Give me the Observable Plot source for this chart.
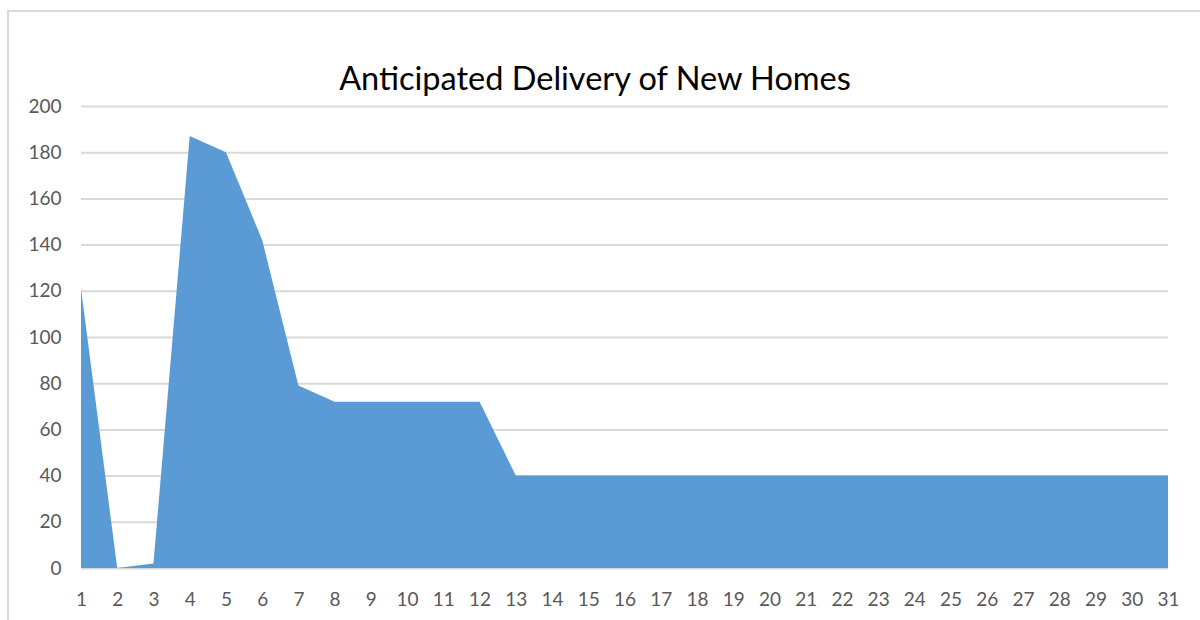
<!DOCTYPE html>
<html>
<head>
<meta charset="utf-8">
<script src="https://cdn.jsdelivr.net/npm/d3@7"></script>
<script src="https://cdn.jsdelivr.net/npm/@observablehq/plot@0.6"></script>
<style>
  html, body { margin: 0; padding: 0; background: #fff; overflow: hidden; }
  #wrap { position: relative; width: 1200px; height: 620px; }
  #frame { position: absolute; left: 7px; top: 10px; width: 1300px; height: 800px; border: 2px solid #d9d9d9; box-sizing: border-box; }
  #title { position: absolute; top: 59px; left: 0; width: 1190px; text-align: center; font-family: Lato, "Open Sans", sans-serif; font-size: 32.5px; line-height: 38px; color: #000; }
  #chart { position: absolute; left: 0; top: 0; }
</style>
</head>
<body>
<div id="wrap">
  <div id="frame"></div>
  <div id="chart"></div>
  <div id="title">Anticipated Delivery of New Homes</div>
</div>
<script>
const periods = d3.range(1, 32);
const homes = [121, 0, 2, 187, 180, 142, 79, 72, 72, 72, 72, 72,
  40, 40, 40, 40, 40, 40, 40, 40, 40, 40, 40, 40, 40, 40, 40, 40, 40, 40, 40];
const yTicks = [0, 20, 40, 60, 80, 100, 120, 140, 160, 180, 200];

const data = periods.map((p, i) => ({period: p, value: homes[i]}));

const chart = Plot.plot({
  width: 1200,
  height: 620,
  marginLeft: 81,
  marginRight: 32,
  marginTop: 106,
  marginBottom: 52,
  style: {fontFamily: "Lato, 'Open Sans', sans-serif", fontSize: "19px", color: "#595959", background: "transparent"},
  x: {domain: [1, 31], ticks: periods, tickFormat: d => String(d), tickSize: 0, tickPadding: 24, label: null},
  y: {domain: [0, 200], ticks: yTicks, tickSize: 0, tickPadding: 20, label: null},
  marks: [
    Plot.ruleY(yTicks, {stroke: "#d9d9d9", strokeWidth: 2}),
    Plot.areaY(data, {x: "period", y: "value", fill: "#5b9bd5"}),
    Plot.axisX({ticks: periods, tickFormat: d => String(d), tickSize: 0, tickPadding: 24, fill: "#595959", fontSize: 19}),
    Plot.axisY({ticks: yTicks, tickSize: 0, tickPadding: 20, fill: "#595959", fontSize: 19})
  ]
});
document.getElementById("chart").appendChild(chart);
</script>
</body>
</html>
